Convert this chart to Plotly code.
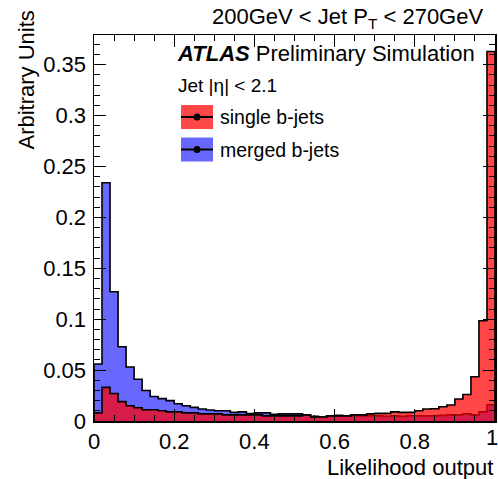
import numpy as np
import plotly.graph_objects as go

# Likelihood output histogram, 50 bins from 0 to 1
bin_edges = np.linspace(0.0, 1.0, 51)

single_bjets = [0.008, 0.033, 0.027, 0.019, 0.015, 0.013, 0.011, 0.011, 0.010, 0.009,
                0.009, 0.008, 0.008, 0.007, 0.007, 0.007, 0.006, 0.006, 0.006, 0.006,
                0.006, 0.005, 0.005, 0.005, 0.005, 0.005, 0.006, 0.004, 0.004, 0.005,
                0.005, 0.005, 0.006, 0.006, 0.007, 0.0075, 0.0075, 0.009, 0.0085, 0.0085,
                0.010, 0.0118, 0.012, 0.014, 0.0157, 0.0216, 0.026, 0.0435, 0.0985, 0.363]

merged_bjets = [0.056, 0.234, 0.127, 0.073, 0.053, 0.041, 0.030, 0.024, 0.022, 0.020,
                0.017, 0.015, 0.0134, 0.0118, 0.0108, 0.010, 0.010, 0.0085, 0.009, 0.0072,
                0.008, 0.008, 0.0065, 0.007, 0.007, 0.007, 0.006, 0.0045, 0.004, 0.005,
                0.0055, 0.005, 0.005, 0.005, 0.005, 0.005, 0.0045, 0.005, 0.0045, 0.005,
                0.005, 0.005, 0.005, 0.0055, 0.006, 0.006, 0.007, 0.006, 0.009, 0.016]

series_names = ["single b-jets", "merged b-jets"]
x_tick_vals = [0, 0.2, 0.4, 0.6, 0.8, 1.0]
x_tick_text = ["0", "0.2", "0.4", "0.6", "0.8", "1"]
title_text = "200GeV < Jet P<sub>T</sub> < 270GeV"

FONT = "Liberation Sans, Arial, Helvetica, sans-serif"
W, H = 498, 479
L, R, T, B = 94, 495, 35, 421  # plot area in pixels

def px(x):
    return (x - L) / (R - L)

def py(y):
    return (B - y) / (B - T)

def step_xy(vals):
    xs = [0.0] + list(bin_edges[:-1]) + [1.0, 1.0]
    ys = [0.0] + list(vals) + [vals[-1], 0.0]
    return xs, ys

RED_FILL = "rgba(255,0,0,0.72)"
BLUE_FILL = "rgba(40,40,255,0.70)"

fig = go.Figure()
xb, yb = step_xy(merged_bjets)
fig.add_trace(go.Scatter(x=xb, y=yb, mode="lines", line=dict(shape="hv", color="black", width=1.6),
                         fill="tozeroy", fillcolor=BLUE_FILL, name=series_names[1], showlegend=False,
                         hoverinfo="skip"))
xr, yr = step_xy(single_bjets)
fig.add_trace(go.Scatter(x=xr, y=yr, mode="lines", line=dict(shape="hv", color="black", width=1.6),
                         fill="tozeroy", fillcolor=RED_FILL, name=series_names[0], showlegend=False,
                         hoverinfo="skip"))

axis_common = dict(showline=True, linecolor="black", linewidth=1.5, mirror="ticks",
                   ticks="inside", tickcolor="black", ticklen=12, tickwidth=1,
                   showgrid=False, zeroline=False,
                   tickfont=dict(family=FONT, size=22, color="black"))

# last x label ("1") drawn separately so it stays inside the page
fig.update_xaxes(range=[0, 1], tickmode="array", tickvals=x_tick_vals[:-1],
                 ticktext=x_tick_text[:-1],
                 minor=dict(ticks="inside", dtick=0.05, ticklen=6, tickcolor="black", showgrid=False),
                 **axis_common)
fig.update_yaxes(range=[0, (B - T) / 1018.0], dtick=0.05, tick0=0, ticklabelstandoff=2,
                 minor=dict(ticks="inside", dtick=0.01, ticklen=6, tickcolor="black", showgrid=False),
                 **axis_common)

shapes = []
annotations = []

# legend (manual)
legend_items = [(series_names[0], RED_FILL, 117), (series_names[1], BLUE_FILL, 149.5)]
for name, col, yc in legend_items:
    shapes.append(dict(type="rect", xref="paper", yref="paper",
                       x0=px(181), x1=px(213), y0=py(yc + 12), y1=py(yc - 12),
                       fillcolor=col, line=dict(width=0)))
    shapes.append(dict(type="line", xref="paper", yref="paper",
                       x0=px(181), x1=px(213), y0=py(yc), y1=py(yc),
                       line=dict(color="black", width=2)))
    shapes.append(dict(type="circle", xref="paper", yref="paper",
                       x0=px(193.5), x1=px(200.5), y0=py(yc + 3.5), y1=py(yc - 3.5),
                       fillcolor="black", line=dict(color="black", width=0)))
    annotations.append(dict(text=name, xref="paper", yref="paper", x=px(218), y=py(yc),
                            xanchor="left", yanchor="middle", showarrow=False,
                            font=dict(family=FONT, size=19.5, color="black")))

annotations += [
    dict(text=x_tick_text[-1], xref="x", yref="paper", x=x_tick_vals[-1], xshift=-3, y=py(423),
         xanchor="center", yanchor="top", showarrow=False,
         font=dict(family=FONT, size=22, color="black")),
    dict(text="<b><i>ATLAS</i></b> Preliminary Simulation", xref="paper", yref="paper",
         x=px(175), y=py(53), xanchor="left", yanchor="middle", showarrow=False,
         font=dict(family=FONT, size=22, color="black")),
    dict(text="Jet |η| < 2.1", xref="paper", yref="paper",
         x=px(176), y=py(85), xanchor="left", yanchor="middle", showarrow=False,
         font=dict(family=FONT, size=19, color="black")),
    dict(text=title_text, xref="paper", yref="paper",
         x=px(485), y=py(18), xanchor="right", yanchor="middle", showarrow=False,
         font=dict(family=FONT, size=22, color="black")),
    dict(text="Likelihood output", xref="paper", yref="paper",
         x=px(495), y=py(467), xanchor="right", yanchor="middle", showarrow=False,
         font=dict(family=FONT, size=22, color="black")),
    dict(text="Arbitrary Units", xref="paper", yref="paper", textangle=-90,
         x=px(26), y=py(9), xanchor="center", yanchor="top", showarrow=False,
         font=dict(family=FONT, size=22, color="black")),
]

fig.update_layout(width=W, height=H, margin=dict(l=L, r=W - R, t=T, b=H - B, autoexpand=False),
                  paper_bgcolor="white", plot_bgcolor="white", showlegend=False,
                  hovermode=False, shapes=shapes, annotations=annotations)

fig.write_html("out.html", config={"displayModeBar": False, "staticPlot": True},
               post_script="document.body.style.margin='0';document.body.style.overflow='hidden';")
